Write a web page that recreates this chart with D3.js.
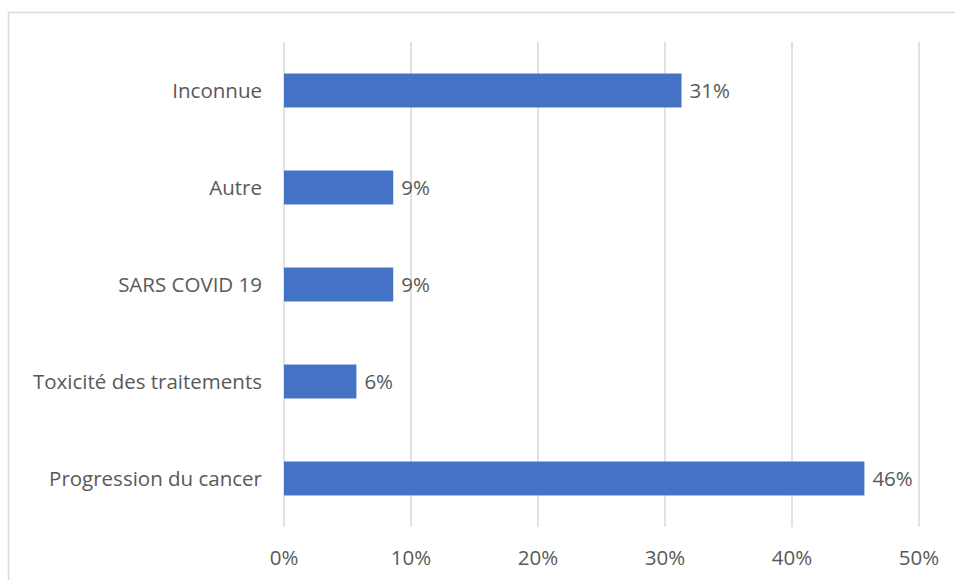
<!DOCTYPE html>
<html>
<head>
<meta charset="utf-8">
<script src="https://cdn.jsdelivr.net/npm/d3@7.9.0/dist/d3.min.js"></script>
<style>
  body { margin: 0; background: #fff; }
  svg text { font-family: "Open Sans", "Noto Sans", sans-serif; fill: #595959; }
</style>
</head>
<body>
<svg id="chart" width="955" height="580"></svg>
<script>
// categories top to bottom, values in percent
const categories = ['Inconnue', 'Autre', 'SARS COVID 19', 'Toxicité des traitements', 'Progression du cancer'];
const values = [31.3, 8.6, 8.6, 5.7, 45.7];
const labels = ['31%', '9%', '9%', '6%', '46%'];
const ticks = [0, 10, 20, 30, 40, 50];

const fontSize = 20.5;

const svg = d3.select('#chart');
const margin = { top: 42, left: 284, right: 36, bottom: 53 };
const width = 955 - margin.left - margin.right;
const height = 580 - margin.top - margin.bottom;

// chart border (runs off the right and bottom edges like the reference)
svg.append('rect')
  .attr('x', 8.5).attr('y', 12.5)
  .attr('width', 960).attr('height', 600)
  .attr('fill', 'none').attr('stroke', '#d9d9d9').attr('stroke-width', 1.5);

const g = svg.append('g').attr('transform', `translate(${margin.left},${margin.top})`);

const x = d3.scaleLinear().domain([0, 50]).range([0, width]);
const y = d3.scaleBand().domain(categories).range([0, height]).paddingInner(0.65).paddingOuter(0.325);

// gridlines
g.selectAll('line.grid')
  .data(ticks)
  .join('line')
  .attr('class', 'grid')
  .attr('x1', (d) => x(d)).attr('x2', (d) => x(d))
  .attr('y1', 0).attr('y2', height)
  .attr('stroke', '#d9d9d9').attr('stroke-width', 1.5);

// x tick labels
g.selectAll('text.tick')
  .data(ticks)
  .join('text')
  .attr('class', 'tick')
  .attr('x', (d) => x(d))
  .attr('y', height + 38)
  .attr('text-anchor', 'middle')
  .attr('font-size', fontSize)
  .text((d) => d + '%');

// category labels
g.selectAll('text.cat')
  .data(categories)
  .join('text')
  .attr('class', 'cat')
  .attr('x', -22)
  .attr('y', (d) => y(d) + y.bandwidth() / 2)
  .attr('dy', '0.35em')
  .attr('text-anchor', 'end')
  .attr('font-size', fontSize)
  .text((d) => d);

// bars
g.selectAll('rect.bar')
  .data(values)
  .join('rect')
  .attr('class', 'bar')
  .attr('x', 0)
  .attr('y', (d, i) => y(categories[i]))
  .attr('width', (d) => x(d))
  .attr('height', y.bandwidth())
  .attr('fill', '#4472c4');

// value labels
g.selectAll('text.val')
  .data(values)
  .join('text')
  .attr('class', 'val')
  .attr('x', (d) => x(d) + 8)
  .attr('y', (d, i) => y(categories[i]) + y.bandwidth() / 2)
  .attr('dy', '0.37em')
  .attr('font-size', fontSize)
  .text((d, i) => labels[i]);
</script>
</body>
</html>
